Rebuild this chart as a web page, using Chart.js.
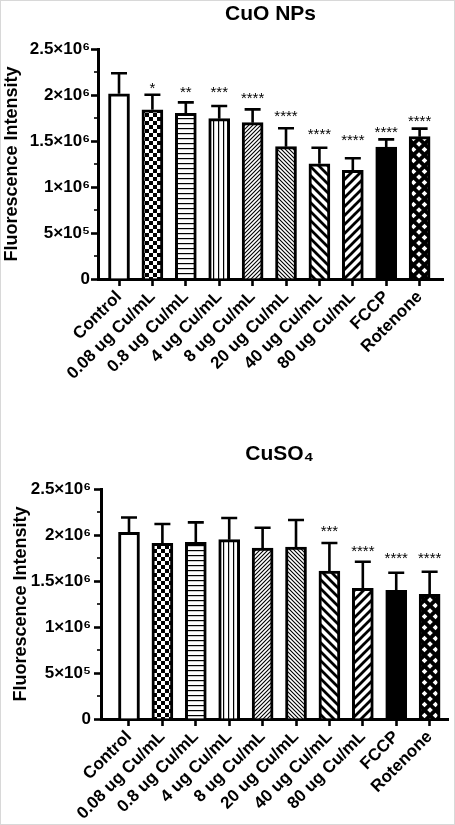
<!DOCTYPE html>
<html>
<head>
<meta charset="utf-8">
<script src="https://cdn.jsdelivr.net/npm/chart.js@4.4.1/dist/chart.umd.min.js"></script>
<style>
  html, body { margin: 0; padding: 0; background: #fff; }
  #wrap { position: relative; width: 455px; height: 825px; box-sizing: border-box; border: 1px solid #d8d8d8; overflow: hidden; }
  canvas { position: absolute; left: 0; }
  #cuoChart { top: 0; }
  #cuso4Chart { top: 412px; }
</style>
</head>
<body>
<div id="wrap">
  <canvas id="cuoChart" width="455" height="412"></canvas>
  <canvas id="cuso4Chart" width="455" height="413"></canvas>
</div>
<script>
// data
const categories = ["Control", "0.08 ug Cu/mL", "0.8 ug Cu/mL", "4 ug Cu/mL", "8 ug Cu/mL",
    "20 ug Cu/mL", "40 ug Cu/mL", "80 ug Cu/mL", "FCCP", "Rotenone"];

const cuoMean = [2014000, 1840000, 1801000, 1743000, 1699000, 1438000, 1253000, 1181000, 1435000, 1547000];
const cuoErr = [222000, 163000, 119000, 137000, 145000, 200000, 174000, 131000, 83000, 87000];
const cuoSig = ["", "*", "**", "***", "****", "****", "****", "****", "****", "****"];
const cuoSigLevel = [null, 2116000, 2073000, 2073000, 2014000, 1815000, 1616000, 1554000, 1645000, 1764000];

const cuso4Mean = [2028000, 1909000, 1920000, 1949000, 1859000, 1870000, 1609000, 1420000, 1398000, 1354000];
const cuso4Err = [163000, 211000, 217000, 236000, 220000, 293000, 304000, 290000, 192000, 247000];
const cuso4Sig = ["", "", "", "", "", "", "***", "****", "****", "****"];
const cuso4SigLevel = [null, null, null, null, null, null, 2090000, 1865000, 1793000, 1793000];

const yTicks = [0, 500000, 1000000, 1500000, 2000000, 2500000];

const FONT = "'Liberation Sans', Arial, 'DejaVu Sans', sans-serif";

// fill patterns, one per group
function tile(size, draw) {
    let c = document.createElement("canvas");
    c.width = size;
    c.height = size;
    let g = c.getContext("2d");
    draw(g, size);
    return g.createPattern(c, "repeat");
}

function diag(size, width, forward) {
    return tile(size, function(g, s) {
        g.fillStyle = "#fff";
        g.fillRect(0, 0, s, s);
        g.strokeStyle = "#000";
        g.lineWidth = width;
        g.beginPath();
        if (forward) {
            g.moveTo(-2, s + 2); g.lineTo(s + 2, -2);
            g.moveTo(-2, 2); g.lineTo(2, -2);
            g.moveTo(s - 2, s + 2); g.lineTo(s + 2, s - 2);
        } else {
            g.moveTo(-2, -2); g.lineTo(s + 2, s + 2);
            g.moveTo(s - 2, -2); g.lineTo(s + 2, 2);
            g.moveTo(-2, s - 2); g.lineTo(2, s + 2);
        }
        g.stroke();
    });
}

const fills = [
    "#ffffff",
    tile(8, function(g) {
        g.fillStyle = "#fff"; g.fillRect(0, 0, 8, 8);
        g.fillStyle = "#000"; g.fillRect(0, 0, 4, 4); g.fillRect(4, 4, 4, 4);
    }),
    tile(5, function(g) {
        g.fillStyle = "#fff"; g.fillRect(0, 0, 5, 5);
        g.fillStyle = "#000"; g.fillRect(0, 2, 5, 1.2);
    }),
    tile(5, function(g) {
        g.fillStyle = "#fff"; g.fillRect(0, 0, 5, 5);
        g.fillStyle = "#000"; g.fillRect(2, 0, 1.2, 5);
    }),
    diag(4, 1.1, true),
    diag(4, 1.1, false),
    diag(9, 2.8, false),
    diag(9, 2.8, true),
    "#000000",
    tile(11, function(g, s) {
        g.fillStyle = "#000"; g.fillRect(0, 0, s, s);
        g.fillStyle = "#fff";
        [[0, 0], [s, 0], [0, s], [s, s], [s / 2, s / 2]].forEach(function(p) {
            g.beginPath();
            g.moveTo(p[0], p[1] - 2.8);
            g.lineTo(p[0] + 2.8, p[1]);
            g.lineTo(p[0], p[1] + 2.8);
            g.lineTo(p[0] - 2.8, p[1]);
            g.closePath();
            g.fill();
        });
    }),
];

function sciLabel(v) {
    if (v === 0) return "0";
    let sup = {"0": "⁰", "1": "¹", "2": "²", "3": "³", "4": "⁴", "5": "⁵", "6": "⁶", "7": "⁷", "8": "⁸", "9": "⁹"};
    let e = Math.floor(Math.log10(v));
    let m = Math.round(v / Math.pow(10, e) * 10) / 10;
    return m + "×10" + String(e).split("").map(d => sup[d]).join("");
}

// error bars, stars, minor ticks and title
const extrasPlugin = {
    id: "extras",
    afterDatasetsDraw(chart) {
        let o = chart.options.plugins.extras;
        let ctx = chart.ctx;
        let y = chart.scales.y;
        let area = chart.chartArea;
        let meta = chart.getDatasetMeta(0);
        ctx.save();
        ctx.strokeStyle = "#000";
        ctx.lineWidth = 2.6;
        meta.data.forEach(function(bar, i) {
            let top = y.getPixelForValue(o.mean[i] + o.err[i]);
            ctx.beginPath();
            ctx.moveTo(bar.x, bar.y);
            ctx.lineTo(bar.x, top);
            ctx.moveTo(bar.x - 8, top);
            ctx.lineTo(bar.x + 8, top);
            ctx.stroke();
            if (o.sig[i]) {
                ctx.fillStyle = "#000";
                ctx.font = "15px " + FONT;
                ctx.textAlign = "center";
                ctx.textBaseline = "alphabetic";
                ctx.fillText(o.sig[i], bar.x, y.getPixelForValue(o.sigLevel[i]) + 9);
            }
        });
        // minor ticks
        ctx.lineWidth = 1.6;
        for (let v = 250000; v < 2500000; v += 500000) {
            let py = y.getPixelForValue(v);
            ctx.beginPath();
            ctx.moveTo(area.left - 4, py);
            ctx.lineTo(area.left, py);
            ctx.stroke();
        }
        // title centred on plot area
        ctx.fillStyle = "#000";
        ctx.font = "bold 21px " + FONT;
        ctx.textAlign = "center";
        ctx.textBaseline = "middle";
        ctx.fillText(o.title, (area.left + area.right) / 2 + o.titleDx, o.titleY);
        ctx.restore();
    },
};

function makeChart(id, mean, err, sig, sigLevel, lay) {
    let ctx = document.getElementById(id).getContext("2d");
    new Chart(ctx, {
        type: "bar",
        data: {
            datasets: [{
                data: mean.map((v, i) => ({x: i, y: v})),
                backgroundColor: fills,
                borderColor: "#000",
                borderWidth: 3,
                barThickness: 21,
            }, ],
        },
        options: {
            responsive: false,
            devicePixelRatio: 1,
            animation: false,
            layout: {
                padding: {top: lay.top, right: lay.right, left: 0, bottom: 0},
            },
            plugins: {
                legend: {display: false},
                tooltip: {enabled: false},
                extras: {
                    mean: mean, err: err, sig: sig, sigLevel: sigLevel,
                    title: lay.title, titleY: lay.titleY, titleDx: lay.titleDx,
                },
            },
            scales: {
                x: {
                    type: "linear",
                    min: lay.xMin,
                    max: lay.xMax,
                    offset: false,
                    afterBuildTicks: function(scale) {
                        scale.ticks = categories.map((c, i) => ({value: i}));
                    },
                    afterFit: function(scale) {
                        scale.height = lay.xHeight;
                    },
                    border: {display: true, color: "#000", width: 3},
                    grid: {offset: false, drawOnChartArea: false, tickLength: 7, tickWidth: 2.6, tickColor: "#000"},
                    ticks: {
                        autoSkip: false,
                        maxRotation: 45,
                        minRotation: 45,
                        padding: 1,
                        color: "#000",
                        font: {family: FONT, size: 17, weight: "bold"},
                        callback: function(v) {
                            return categories[v];
                        },
                    },
                },
                y: {
                    min: 0,
                    max: 2500000,
                    afterBuildTicks: function(scale) {
                        scale.ticks = yTicks.map(v => ({value: v}));
                    },
                    afterFit: function(scale) {
                        scale.width = lay.left;
                    },
                    border: {display: true, color: "#000", width: 3},
                    grid: {drawOnChartArea: false, tickLength: 7, tickWidth: 2.6, tickColor: "#000"},
                    ticks: {
                        padding: lay.yPad,
                        color: "#000",
                        font: {family: FONT, size: 17, weight: "bold"},
                        callback: function(v) {
                            return sciLabel(v);
                        },
                    },
                    title: {
                        display: true,
                        text: "Fluorescence Intensity",
                        color: "#000",
                        padding: {top: lay.yTitlePad, bottom: 0},
                        font: {family: FONT, size: 18, weight: "bold"},
                    },
                },
            },
        },
        plugins: [extrasPlugin],
    });
}

//CuO NPs
makeChart("cuoChart", cuoMean, cuoErr, cuoSig, cuoSigLevel, {
    title: "CuO NPs", titleY: 13, titleDx: 0,
    top: 48, right: 13, left: 97, xHeight: 134,
    xMin: -0.629, xMax: 9.70, yPad: 1, yTitlePad: 0,
});

//CuSO4
makeChart("cuso4Chart", cuso4Mean, cuso4Err, cuso4Sig, cuso4SigLevel, {
    title: "CuSO₄", titleY: 41, titleDx: 5,
    top: 76, right: 8, left: 100, xHeight: 107,
    xMin: -0.838, xMax: 9.55, yPad: 3, yTitlePad: 9,
});
</script>
</body>
</html>
